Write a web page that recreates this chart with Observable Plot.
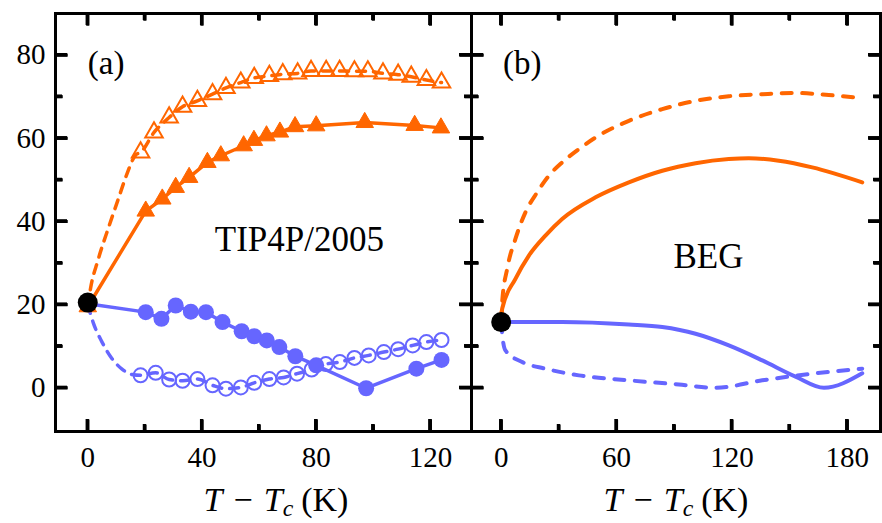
<!DOCTYPE html>
<html><head><meta charset="utf-8">
<script src="https://cdn.jsdelivr.net/npm/d3@7"></script>
<script src="https://cdn.jsdelivr.net/npm/@observablehq/plot@0.6"></script>
<style>
body{margin:0;background:#fff;}
#wrap{position:relative;width:882px;height:523px;overflow:hidden;font-family:"Liberation Serif",serif;}
#wrap svg{position:absolute;top:0;overflow:visible;}
.xl{position:absolute;top:483px;width:220px;text-align:center;font-size:34px;line-height:34px;white-space:nowrap;color:#000;}
.xl .m{margin:0 11px;}
.xl .s{font-size:0.7em;position:relative;top:5px;font-style:italic;}
.xl .u{margin-left:8px;}
</style></head>
<body><div id="wrap"></div>
<script>
// ---------- Panel (a): TIP4P/2005 ----------
const aFilledTriT = [0, 20.3, 26.1, 30.8, 35.5, 41.9, 46.6, 54.6, 58.2, 62.6, 67.3, 72.6, 80.0, 97.0, 114.5, 123.7];
const aFilledTriV = [19.5, 42.5, 45.4, 48.2, 50.6, 54.2, 55.8, 58.2, 59.5, 60.6, 61.5, 62.8, 63.0, 63.8, 63.1, 62.5];

const aOpenTriT = [18.5, 23.2, 28.5, 33.2, 38.4, 43.7, 48.4, 53.6, 58.3, 63.6, 68.3, 73.5, 78.2, 83.5, 88.2, 93.4, 98.1, 103.4, 108.7, 113.3, 118.6, 123.9];
const aOpenTriV = [56.6, 61.4, 65.0, 67.6, 69.0, 70.6, 72.1, 73.4, 74.5, 75.0, 75.4, 75.6, 76.2, 76.2, 76.2, 76.1, 76.1, 75.6, 75.3, 74.8, 74.0, 73.4];
const aOpenTriLeadT = [0, 1, 3.5, 7.5, 10.5, 13.5, 16.8];
const aOpenTriLeadV = [19.5, 24, 30.5, 39, 45, 51, 56];

const aFilledCircT = [0, 20.3, 25.8, 30.8, 36.1, 41.4, 47.2, 53.9, 58.3, 62.7, 67.1, 72.7, 80.0, 97.5, 115.1, 123.9];
const aFilledCircV = [20.2, 18.2, 16.6, 19.8, 18.3, 18.2, 15.8, 13.6, 12.4, 11.4, 9.8, 7.6, 5.4, -0.1, 4.6, 6.7];

const aOpenCircT = [18.5, 23.8, 28.5, 33.2, 38.4, 43.7, 48.4, 53.6, 58.3, 63.6, 68.6, 73.3, 78.4, 83.4, 88.3, 93.4, 98.4, 103.7, 108.7, 113.8, 118.6, 123.9];
const aOpenCircV = [3.0, 3.6, 2.0, 1.7, 2.1, 0.6, -0.2, 0.1, 1.2, 2.1, 2.5, 3.4, 4.4, 5.7, 6.2, 7.2, 7.8, 8.6, 9.3, 10.2, 11.0, 11.5];
const aOpenCircLeadT = [0, 2, 5, 8.5, 12, 15.5];
const aOpenCircLeadV = [20, 15.5, 11, 7, 4.5, 3.2];

const aCritT = [0], aCritV = [20.5];

// ---------- Panel (b): BEG ----------
const bOrangeDashT = [0, 0.5, 3.1, 7.4, 12.6, 18.7, 24.8, 31.7, 40.4, 49.1, 66.4, 83.8, 101.1, 118.4, 135.8, 153.1, 170.4, 187.8];
const bOrangeDashV = [16, 20.6, 28.6, 35.8, 42.2, 47.0, 51.0, 54.2, 57.4, 60.2, 64.2, 67.0, 69.0, 70.1, 70.6, 70.9, 70.4, 69.6];
const bOrangeSolidT = [0, 0.5, 7.4, 14.4, 23.0, 31.7, 49.1, 66.4, 83.8, 101.1, 118.4, 128.8, 144.4, 161.8, 187.8];
const bOrangeSolidV = [16, 19.0, 26.2, 31.8, 36.6, 40.6, 45.8, 49.4, 52.2, 54.0, 55.0, 55.2, 54.6, 53.0, 49.4];
const bBlueSolidT = [0, 31.7, 66.4, 83.8, 101.1, 118.4, 135.8, 153.1, 167.9, 187.8];
const bBlueSolidV = [15.8, 15.8, 15.2, 14.6, 13.0, 10.2, 6.6, 2.7, 0, 3.5];
const bBlueDashT = [0, 0.5, 2.2, 10.9, 23, 40.4, 66.4, 92.4, 111.5, 135.8, 161.8, 187.8];
const bBlueDashV = [15.8, 13.0, 9.0, 6.2, 4.6, 3.0, 1.8, 0.8, 0, 1.8, 3.4, 4.6];
const bCritT = [0], bCritV = [15.8];

// ---------- ticks ----------
const aXMajor = [0, 40, 80, 120], aXMinor = [20, 60, 100];
const bXMajor = [0, 60, 120, 180], bXMinor = [30, 90, 150];
const yMajor = [0, 20, 40, 60, 80], yMinor = [10, 30, 50, 70];

const ORANGE = "#FF6600", BLUE = "#6666FF";
const Y_DOMAIN = [-10.5, 90];
const rows = (T, V) => T.map((t, i) => ({t, v: V[i]}));

// inward frame ticks: two-point segments plus thin filled rects (px lengths -> data units)
function tickMarks(xDom, xPx, yPx, xs, ys, len) {
  const kx = (xDom[1] - xDom[0]) / xPx, ky = (Y_DOMAIN[1] - Y_DOMAIN[0]) / yPx;
  const [x0, x1] = xDom, [y0, y1] = Y_DOMAIN;
  const hw = 1.5;
  const segs = [];
  let id = 0;
  const add = (xa, ya, xb, yb) => { segs.push({id, t: xa, v: ya}, {id, t: xb, v: yb}); id++; };
  for (const x of xs) { add(x, y0, x, y0 + len * ky); add(x, y1, x, y1 - len * ky); }
  for (const y of ys) { add(x0, y, x0 + len * kx, y); add(x1, y, x1 - len * kx, y); }
  const rx = {x1: d => d - hw * kx, x2: d => d + hw * kx, fill: "#000"};
  const ry = {y1: d => d - hw * ky, y2: d => d + hw * ky, fill: "#000"};
  return [
    Plot.line(segs, {x: "t", y: "v", z: "id", stroke: "#000", strokeWidth: 3, strokeLinecap: "butt"}),
    Plot.rect(xs, {...rx, y1: y0, y2: y0 + len * ky}),
    Plot.rect(xs, {...rx, y1: y1 - len * ky, y2: y1}),
    Plot.rect(ys, {...ry, x1: x0, x2: x0 + len * kx}),
    Plot.rect(ys, {...ry, x1: x1 - len * kx, x2: x1})
  ];
}

const common = {
  height: 523, marginTop: 13, marginBottom: 92,
  style: {fontFamily: "Liberation Serif, serif", fontSize: "29px", background: "transparent", overflow: "visible", color: "#000"}
};

const aXDomain = [-11.3, 134.4];
const aBox = {width: 472, marginLeft: 55, marginRight: 1};
const dataA = Plot.plot({
  ...common, ...aBox,
  x: {domain: aXDomain, axis: null},
  y: {domain: Y_DOMAIN, axis: null},
  marks: [
    Plot.line(rows(aOpenTriLeadT.concat(aOpenTriT), aOpenTriLeadV.concat(aOpenTriV)), {x: "t", y: "v", stroke: ORANGE, strokeWidth: 3.5, strokeDasharray: "9,8", curve: "monotone-x"}),
    Plot.line(rows(aFilledTriT, aFilledTriV), {x: "t", y: "v", stroke: ORANGE, strokeWidth: 3.5}),
    Plot.line(rows(aOpenCircLeadT.concat(aOpenCircT), aOpenCircLeadV.concat(aOpenCircV)), {x: "t", y: "v", stroke: BLUE, strokeWidth: 3.5, strokeDasharray: "9,8", curve: "monotone-x"}),
    Plot.line(rows(aFilledCircT, aFilledCircV), {x: "t", y: "v", stroke: BLUE, strokeWidth: 3.5}),
    Plot.dot(rows(aOpenTriT, aOpenTriV), {x: "t", y: "v", symbol: "triangle", r: 6.5, fill: "none", stroke: ORANGE, strokeWidth: 2}),
    Plot.dot(rows(aFilledTriT, aFilledTriV), {x: "t", y: "v", symbol: "triangle", r: 6.5, fill: ORANGE, stroke: ORANGE, strokeWidth: 1}),
    Plot.dot(rows(aOpenCircT, aOpenCircV), {x: "t", y: "v", r: 7, fill: "none", stroke: BLUE, strokeWidth: 2}),
    Plot.dot(rows(aFilledCircT, aFilledCircV), {x: "t", y: "v", r: 8, fill: BLUE}),
    Plot.dot(rows(aCritT, aCritV), {x: "t", y: "v", r: 10, fill: "#000"}),
    ...tickMarks(aXDomain, 416, 418, aXMajor, yMajor, 12),
    ...tickMarks(aXDomain, 416, 418, aXMinor, yMinor, 7),
    Plot.text(["(a)"], {x: 0, y: 78, text: d => d, textAnchor: "start", fontSize: 33}),
    Plot.text(["TIP4P/2005"], {x: 44.5, y: 35.6, text: d => d, textAnchor: "start", fontSize: 35})
  ]
});
const axesA = Plot.plot({
  ...common, ...aBox,
  x: {domain: aXDomain},
  y: {domain: Y_DOMAIN},
  marks: [
    Plot.frame({stroke: "#000", strokeWidth: 3}),
    ...tickMarks(aXDomain, 416, 418, aXMajor, yMajor, 12),
    ...tickMarks(aXDomain, 416, 418, aXMinor, yMinor, 7),
    Plot.axisX({ticks: aXMajor, anchor: "bottom", tickSize: 6, strokeOpacity: 0, tickPadding: 9, fontSize: 29, label: null}),
    Plot.axisY({ticks: yMajor, anchor: "left", tickSize: 6, strokeOpacity: 0, tickPadding: 4, fontSize: 29, label: null})
  ]
});

const bXDomain = [-15.45, 197.3];
const bBox = {width: 442, marginLeft: 31, marginRight: 2};
const dataB = Plot.plot({
  ...common, ...bBox,
  x: {domain: bXDomain, axis: null},
  y: {domain: Y_DOMAIN, axis: null},
  marks: [
    Plot.line(rows(bOrangeDashT, bOrangeDashV), {x: "t", y: "v", stroke: ORANGE, strokeWidth: 4, strokeDasharray: "10,10.5", strokeLinecap: "round", curve: "monotone-x"}),
    Plot.line(rows(bOrangeSolidT, bOrangeSolidV), {x: "t", y: "v", stroke: ORANGE, strokeWidth: 4, curve: "monotone-x"}),
    Plot.line(rows(bBlueDashT, bBlueDashV), {x: "t", y: "v", stroke: BLUE, strokeWidth: 4, strokeDasharray: "10,10.5", strokeLinecap: "round", curve: "monotone-x"}),
    Plot.line(rows(bBlueSolidT, bBlueSolidV), {x: "t", y: "v", stroke: BLUE, strokeWidth: 4, curve: "monotone-x"}),
    Plot.dot(rows(bCritT, bCritV), {x: "t", y: "v", r: 10, fill: "#000"}),
    ...tickMarks(bXDomain, 409, 418, bXMajor, yMajor, 12),
    ...tickMarks(bXDomain, 409, 418, bXMinor, yMinor, 7),
    Plot.text(["(b)"], {x: 1, y: 78, text: d => d, textAnchor: "start", fontSize: 33}),
    Plot.text(["BEG"], {x: 89.6, y: 31.4, text: d => d, textAnchor: "start", fontSize: 35})
  ]
});
const axesB = Plot.plot({
  ...common, ...bBox,
  x: {domain: bXDomain},
  y: {domain: Y_DOMAIN, axis: null},
  marks: [
    Plot.frame({stroke: "#000", strokeWidth: 3}),
    ...tickMarks(bXDomain, 409, 418, bXMajor, yMajor, 12),
    ...tickMarks(bXDomain, 409, 418, bXMinor, yMinor, 7),
    Plot.axisX({ticks: bXMajor, anchor: "bottom", tickSize: 6, strokeOpacity: 0, tickPadding: 9, fontSize: 29, label: null})
  ]
});

const wrap = document.getElementById("wrap");
for (const [svg, left] of [[dataA, 0], [axesA, 0], [dataB, 440], [axesB, 440]]) {
  svg.style.left = left + "px";
  wrap.appendChild(svg);
}

function xLabel(center) {
  const d = document.createElement("div");
  d.className = "xl";
  d.style.left = (center - 110) + "px";
  d.innerHTML = '<i>T</i><span class="m">\u2212</span><i>T</i><span class="s">c</span><span class="u">(K)</span>';
  wrap.appendChild(d);
}
xLabel(276);
xLabel(676);
</script>
</body></html>
